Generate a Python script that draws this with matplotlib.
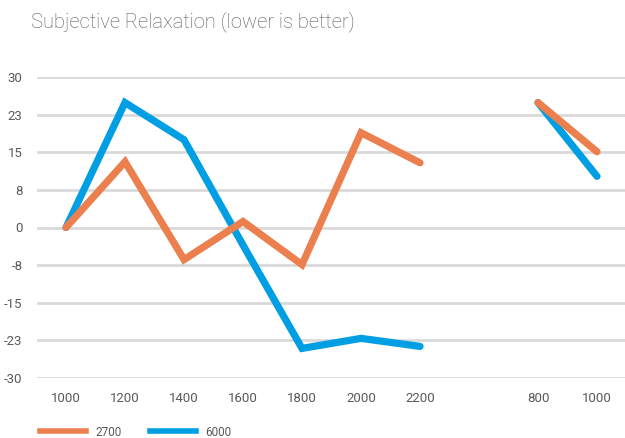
import numpy as np
import matplotlib
matplotlib.use("Agg")
import matplotlib.pyplot as plt
from matplotlib.lines import Line2D

categories = ["1000", "1200", "1400", "1600", "1800", "2000", "2200", "", "800", "1000"]
s2700 = [0, 13.1, -6.4, 1.2, -7.4, 18.9, 12.9, np.nan, 24.9, 15.1]
s6000 = [0, 24.9, 17.5, -3.5, -24.1, -22.1, -23.7, np.nan, 24.9, 10.2]
yticks = [30, 22.5, 15, 7.5, 0, -7.5, -15, -22.5, -30]
ytick_labels = ["30", "23", "15", "8", "0", "-8", "-15", "-23", "-30"]

orange = "#EC7F4E"
blue = "#009FE3"
gray = "#595959"
grid = "#D9D9D9"

fig = plt.figure(figsize=(6.25, 4.38), dpi=100)
W, H = 625, 438
ax = fig.add_axes([36.5 / W, (H - 378) / H, 590 / W, 301 / H])

x = np.arange(len(categories))
ax.plot(x, s2700, color=orange, lw=5.2, solid_capstyle="round", solid_joinstyle="miter", zorder=3)
ax.plot(x, s6000, color=blue, lw=5.2, solid_capstyle="round", solid_joinstyle="miter", zorder=2)

ax.set_xlim(-0.5, 9.5)
ax.set_ylim(-30, 30)
ax.set_yticks(yticks)
ax.set_yticklabels(ytick_labels)
ax.set_xticks(x)
ax.set_xticklabels(categories)
for y in yticks:
    ax.axhline(y, color=grid, lw=2.0, zorder=1)
for s in ax.spines.values():
    s.set_visible(False)
ax.tick_params(axis="both", length=0, labelsize=9.5, labelcolor=gray)
ax.tick_params(axis="x", pad=10)
ax.tick_params(axis="y", pad=10)
for lab in ax.get_xticklabels() + ax.get_yticklabels():
    lab.set_fontfamily("Roboto")

fig.text(31 / W, 1 - 22 / H, "Subjective Relaxation (lower is better)", fontsize=14.5,
         color=gray, fontfamily="Roboto", fontweight="light", va="center", ha="left")

handles = [Line2D([], [], color=orange, lw=4), Line2D([], [], color=blue, lw=4)]
leg = fig.legend(handles, ["2700", "6000"], loc="center left", bbox_to_anchor=(29 / W, 1 - 432 / H),
                 ncol=2, frameon=False, handlelength=3.9, handletextpad=0.8, columnspacing=2.4,
                 prop={"family": "Roboto", "size": 8.5})
for t in leg.get_texts():
    t.set_color(gray)

fig.savefig("out.png", dpi=100)
